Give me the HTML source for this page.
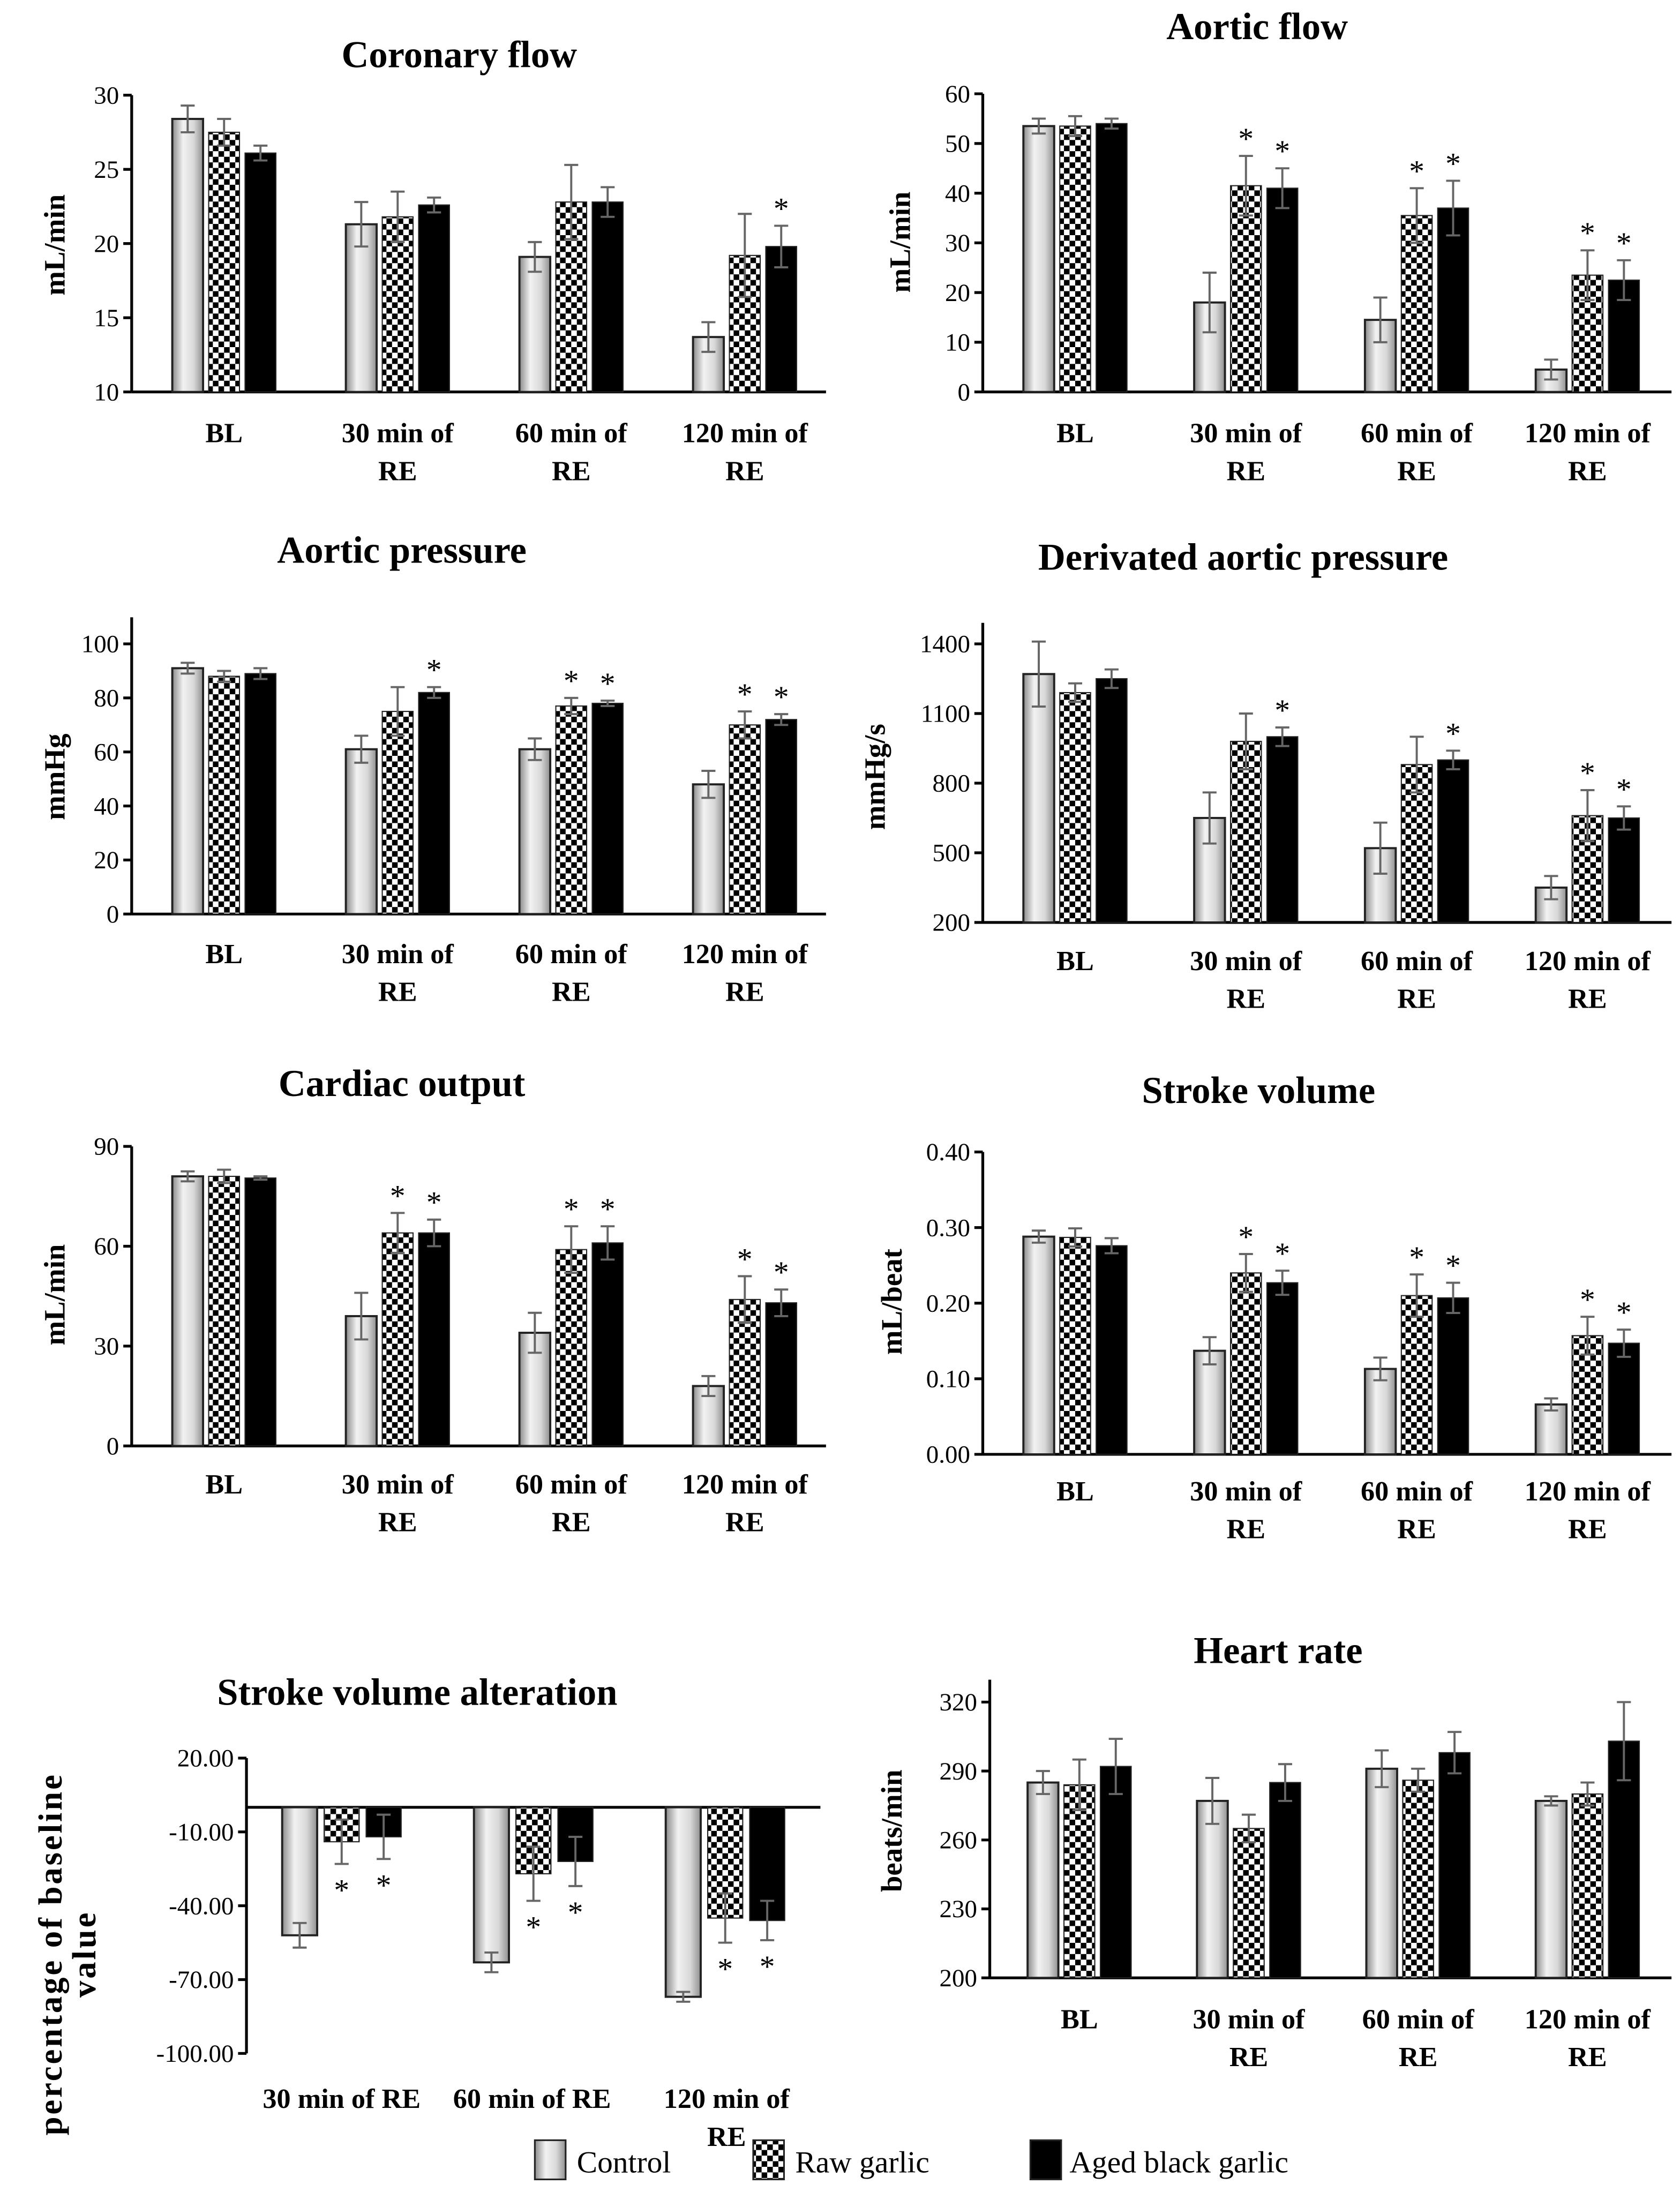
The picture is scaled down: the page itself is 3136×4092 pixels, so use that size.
<!DOCTYPE html>
<html><head><meta charset="utf-8"><style>
html,body{margin:0;padding:0;background:#fff;}
svg{display:block;}
text{font-family:"Liberation Serif",serif;}
</style></head><body>
<svg id="fig" xmlns="http://www.w3.org/2000/svg" width="3136" height="4092" viewBox="0 0 1200 1566">
<defs>
<linearGradient id="ctrlGrad" x1="0" x2="1" y1="0" y2="0">
<stop offset="0" stop-color="#8a8a8a"/><stop offset="0.35" stop-color="#f2f2f2"/><stop offset="0.7" stop-color="#d8d8d8"/><stop offset="1" stop-color="#8f8f8f"/>
</linearGradient>
<pattern id="checker" patternUnits="userSpaceOnUse" width="8" height="8">
<rect width="8" height="8" fill="#fff"/><rect width="4" height="4" fill="#000"/><rect x="4" y="4" width="4" height="4" fill="#000"/>
</pattern>
</defs>
<g id="root"></g>
</svg>
<script>
// ---- data ----
const groups4 = ["BL", "30 min of|RE", "60 min of|RE", "120 min of|RE"];
// Coronary flow
const cfTicks = [10, 15, 20, 25, 30];
const cfControl = [28.4, 21.3, 19.1, 13.7];
const cfControlErr = [0.9, 1.5, 1.0, 1.0];
const cfRaw = [27.5, 21.8, 22.8, 19.2];
const cfRawErr = [0.9, 1.7, 2.5, 2.8];
const cfAged = [26.1, 22.6, 22.8, 19.8];
const cfAgedErr = [0.5, 0.5, 1.0, 1.4];
const cfStars = [[0,0,0],[0,0,0],[0,0,0],[0,0,1]];
// Aortic flow
const afTicks = [0, 10, 20, 30, 40, 50, 60];
const afControl = [53.5, 18, 14.5, 4.5];
const afControlErr = [1.5, 6, 4.5, 2];
const afRaw = [53.5, 41.5, 35.5, 23.5];
const afRawErr = [2, 6, 5.5, 5];
const afAged = [54, 41, 37, 22.5];
const afAgedErr = [1, 4, 5.5, 4];
const afStars = [[0,0,0],[0,1,1],[0,1,1],[0,1,1]];
// Aortic pressure
const apTicks = [0, 20, 40, 60, 80, 100];
const apControl = [91, 61, 61, 48];
const apControlErr = [2, 5, 4, 5];
const apRaw = [88, 75, 77, 70];
const apRawErr = [2, 9, 3, 5];
const apAged = [89, 82, 78, 72];
const apAgedErr = [2, 2, 1, 2];
const apStars = [[0,0,0],[0,0,1],[0,1,1],[0,1,1]];
// Derivated aortic pressure
const dpTicks = [200, 500, 800, 1100, 1400];
const dpControl = [1270, 650, 520, 350];
const dpControlErr = [140, 110, 110, 50];
const dpRaw = [1190, 980, 880, 660];
const dpRawErr = [40, 120, 120, 110];
const dpAged = [1250, 1000, 900, 650];
const dpAgedErr = [40, 40, 40, 50];
const dpStars = [[0,0,0],[0,0,1],[0,0,1],[0,1,1]];
// Cardiac output
const coTicks = [0, 30, 60, 90];
const coControl = [81, 39, 34, 18];
const coControlErr = [1.5, 7, 6, 3];
const coRaw = [81, 64, 59, 44];
const coRawErr = [2, 6, 7, 7];
const coAged = [80.5, 64, 61, 43];
const coAgedErr = [0.5, 4, 5, 4];
const coStars = [[0,0,0],[0,1,1],[0,1,1],[0,1,1]];
// Stroke volume
const svTicks = [0, 0.1, 0.2, 0.3, 0.4];
const svControl = [0.288, 0.137, 0.113, 0.066];
const svControlErr = [0.008, 0.018, 0.015, 0.008];
const svRaw = [0.287, 0.240, 0.210, 0.157];
const svRawErr = [0.012, 0.025, 0.028, 0.025];
const svAged = [0.276, 0.227, 0.207, 0.147];
const svAgedErr = [0.010, 0.016, 0.020, 0.018];
const svStars = [[0,0,0],[0,1,1],[0,1,1],[0,1,1]];
// Stroke volume alteration
const saGroups = ["30 min of RE", "60 min of RE", "120 min of|RE"];
const saTicks = [20, -10, -40, -70, -100];
const saControl = [-52, -63, -77];
const saControlErr = [5, 4, 2];
const saRaw = [-14, -27, -45];
const saRawErr = [9, 11, 10];
const saAged = [-12, -22, -46];
const saAgedErr = [9, 10, 8];
const saStars = [[0,1,1],[0,1,1],[0,1,1]];
// Heart rate
const hrTicks = [200, 230, 260, 290, 320];
const hrControl = [285, 277, 291, 277];
const hrControlErr = [5, 10, 8, 2];
const hrRaw = [284, 265, 286, 280];
const hrRawErr = [11, 6, 5, 5];
const hrAged = [292, 285, 298, 303];
const hrAgedErr = [12, 8, 9, 17];
const hrStars = [[0,0,0],[0,0,0],[0,0,0],[0,0,0]];

const NS = "http://www.w3.org/2000/svg";
const root = document.getElementById("root");
function mk(tag, attrs, parent) {
  const e = document.createElementNS(NS, tag);
  for (const k in attrs) e.setAttribute(k, attrs[k]);
  (parent || root).appendChild(e);
  return e;
}
const fills = ["url(#ctrlGrad)", "url(#checker)", "#000"];
const seriesNames = ["control", "raw-garlic", "aged-black-garlic"];

function panel(p) {
  const g = mk("g", {});
  
  
  const y = v => p.y0 + (v - p.vmin) / (p.vmax - p.vmin) * (p.y1 - p.y0);
  const t = mk("text", {x: p.titleX, y: p.titleY, "text-anchor": "middle", "font-size": 27, "font-weight": "bold"}, g);
  t.textContent = p.title;
  
  
  const ytSize = p.ytSize || 21;
  p.ytitle.forEach((line, i) => {
    const yt = mk("text", {x: 0, y: 0, "text-anchor": "middle", "font-size": ytSize, "font-weight": "bold",
      "letter-spacing": p.ytLS || 0,
      transform: `translate(${p.ytX + i * (p.ytGap || 24)},${p.ytY}) rotate(-90)`}, g);
    yt.textContent = line;
    
    
  });
  const ax = mk("line", {x1: p.ax, x2: p.ax, y1: p.axTop, y2: p.axBot, stroke: "#000", "stroke-width": 2}, g);
  
  
  p.ticks.forEach(v => {
    mk("line", {x1: p.ax - 6, x2: p.ax, y1: y(v), y2: y(v), stroke: "#000", "stroke-width": 2}, g);
    const tl = mk("text", {x: p.ax - 9, y: y(v) + 6, "text-anchor": "end", "font-size": 18}, g);
    tl.textContent = p.fmt(v);
    
    
  });
  const xl = mk("line", {x1: p.ax, x2: p.axEnd, y1: y(p.base), y2: y(p.base), stroke: "#000", "stroke-width": 2}, g);
  
  
  const series = [[p.c, p.ce], [p.r, p.re], [p.a, p.ae]];
  p.groups.forEach((gname, gi) => {
    const cx = p.g0 + gi * p.gs;
    series.forEach((s, si) => {
      const v = s[0][gi], err = s[1][gi];
      const bx = cx + (si - 1) * p.off - p.bw / 2;
      const yt = Math.min(y(v), y(p.base)), yb = Math.max(y(v), y(p.base));
      const b = mk("rect", {x: bx, y: yt, width: p.bw, height: yb - yt, fill: fills[si], stroke: "#222", "stroke-width": si === 0 ? 1.5 : 0.8}, g);
      
      
      const ec = "#666";
      const ex = bx + p.bw / 2;
      const yhi = y(v + err), ylo = y(v - err);
      mk("line", {x1: ex, x2: ex, y1: yhi, y2: ylo, stroke: ec, "stroke-width": 1.5}, g);
      mk("line", {x1: ex - 5, x2: ex + 5, y1: yhi, y2: yhi, stroke: ec, "stroke-width": 1.5}, g);
      mk("line", {x1: ex - 5, x2: ex + 5, y1: ylo, y2: ylo, stroke: ec, "stroke-width": 1.5}, g);
      if (p.stars[gi][si]) {
        const sy = p.neg ? Math.max(yhi, ylo) + 26 : Math.min(yhi, ylo) - 5;
        const st = mk("text", {x: ex, y: sy, "text-anchor": "middle", "font-size": 22}, g);
        st.textContent = "*";
        
        
      }
    });
    gname.split("|").forEach((line, li) => {
      const lx = (p.labelX ? p.labelX[gi] : cx);
      const lt = mk("text", {x: lx, y: p.labY + li * 27, "text-anchor": "middle", "font-size": 20, "font-weight": "bold"}, g);
      lt.textContent = line;
      
      
    });
  });
}
const fi = v => String(v);
const L = {ax: 94, axEnd: 590, g0: 160, gs: 124, bw: 22, off: 26};
const R = {ax: 702, axEnd: 1194, g0: 768, gs: 122, bw: 22, off: 26};
panel(Object.assign({}, L, {name: "coronary-flow-chart", title: "Coronary flow", titleX: 328, titleY: 48, ytitle: ["mL/min"], ytX: 46, ytY: 175,
  vmin: 10, vmax: 30, y0: 280, y1: 68, axTop: 68, axBot: 280, base: 10, ticks: cfTicks, fmt: fi,
  groups: groups4, c: cfControl, ce: cfControlErr, r: cfRaw, re: cfRawErr, a: cfAged, ae: cfAgedErr, stars: cfStars, labY: 316}));
panel(Object.assign({}, R, {name: "aortic-flow-chart", title: "Aortic flow", titleX: 898, titleY: 28, ytitle: ["mL/min"], ytX: 650, ytY: 173,
  vmin: 0, vmax: 60, y0: 280, y1: 67, axTop: 67, axBot: 280, base: 0, ticks: afTicks, fmt: fi,
  groups: groups4, c: afControl, ce: afControlErr, r: afRaw, re: afRawErr, a: afAged, ae: afAgedErr, stars: afStars, labY: 316}));
panel(Object.assign({}, L, {name: "aortic-pressure-chart", title: "Aortic pressure", titleX: 287, titleY: 402, ytitle: ["mmHg"], ytX: 46, ytY: 555,
  vmin: 0, vmax: 100, y0: 653, y1: 460, axTop: 441, axBot: 653, base: 0, ticks: apTicks, fmt: fi,
  groups: groups4, c: apControl, ce: apControlErr, r: apRaw, re: apRawErr, a: apAged, ae: apAgedErr, stars: apStars, labY: 688}));
panel(Object.assign({}, R, {name: "derivated-aortic-pressure-chart", title: "Derivated aortic pressure", titleX: 888, titleY: 407, ytitle: ["mmHg/s"], ytX: 632, ytY: 555,
  vmin: 200, vmax: 1400, y0: 659, y1: 460, axTop: 445, axBot: 659, base: 200, ticks: dpTicks, fmt: fi,
  groups: groups4, c: dpControl, ce: dpControlErr, r: dpRaw, re: dpRawErr, a: dpAged, ae: dpAgedErr, stars: dpStars, labY: 693}));
panel(Object.assign({}, L, {name: "cardiac-output-chart", title: "Cardiac output", titleX: 287, titleY: 783, ytitle: ["mL/min"], ytX: 46, ytY: 925,
  vmin: 0, vmax: 90, y0: 1033, y1: 819, axTop: 819, axBot: 1033, base: 0, ticks: coTicks, fmt: fi,
  groups: groups4, c: coControl, ce: coControlErr, r: coRaw, re: coRawErr, a: coAged, ae: coAgedErr, stars: coStars, labY: 1067}));
panel(Object.assign({}, R, {name: "stroke-volume-chart", title: "Stroke volume", titleX: 899, titleY: 788, ytitle: ["mL/beat"], ytX: 644, ytY: 930,
  vmin: 0, vmax: 0.4, y0: 1039, y1: 823, axTop: 823, axBot: 1039, base: 0, ticks: svTicks, fmt: v => v.toFixed(2),
  groups: groups4, c: svControl, ce: svControlErr, r: svRaw, re: svRawErr, a: svAged, ae: svAgedErr, stars: svStars, labY: 1072}));
panel({name: "stroke-volume-alteration-chart", title: "Stroke volume alteration", titleX: 298, titleY: 1218, ytitle: ["percentage of baseline", "value"], ytX: 44, ytY: 1396,
  ytSize: 24, ytLS: 1.5, ytGap: 24,
  ax: 176, axEnd: 586, g0: 244, gs: 137, bw: 25, off: 30,
  vmin: 20, vmax: -100, y0: 1256, y1: 1467, axTop: 1256, axBot: 1467, base: 0, ticks: saTicks, fmt: v => v.toFixed(2),
  groups: saGroups, labelX: [244, 380, 519], c: saControl, ce: saControlErr, r: saRaw, re: saRawErr, a: saAged, ae: saAgedErr, stars: saStars, labY: 1506, neg: true});
panel(Object.assign({}, R, {name: "heart-rate-chart", title: "Heart rate", titleX: 913, titleY: 1188, ytitle: ["beats/min"], ytX: 644, ytY: 1308,
  ax: 707, g0: 771, gs: 121,
  vmin: 200, vmax: 320, y0: 1413, y1: 1216, axTop: 1200, axBot: 1413, base: 200, ticks: hrTicks, fmt: fi,
  groups: groups4, c: hrControl, ce: hrControlErr, r: hrRaw, re: hrRawErr, a: hrAged, ae: hrAgedErr, stars: hrStars, labY: 1449}));

const leg = mk("g", {});


const legItems = [["Control", 382, 412], ["Raw garlic", 538, 568], ["Aged black garlic", 736, 764]];
legItems.forEach((it, i) => {
  const b = mk("rect", {x: it[1], y: 1529, width: 22, height: 28, fill: fills[i], stroke: "#222", "stroke-width": 1.2}, leg);
  
  
  const t = mk("text", {x: it[2], y: 1552, "font-size": 22}, leg);
  t.textContent = it[0];
  
  
});
</script>
</body></html>
